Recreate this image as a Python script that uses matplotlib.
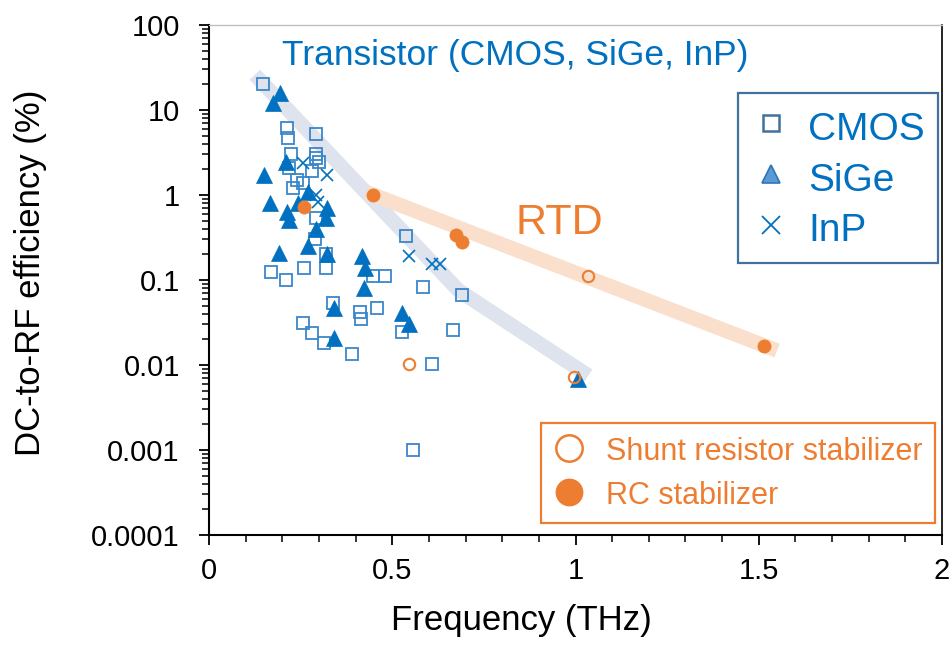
import matplotlib
matplotlib.use("Agg")
import matplotlib.pyplot as plt
from matplotlib.lines import Line2D
from matplotlib.ticker import FixedLocator, LogLocator, NullFormatter, MultipleLocator

plt.rcParams['font.family'] = ['Liberation Sans', 'DejaVu Sans']

# ---------------- data ----------------
cmos_f = [0.147, 0.212, 0.215, 0.293, 0.225, 0.293, 0.293, 0.299, 0.280, 0.218,
          0.239, 0.230, 0.256, 0.293, 0.288, 0.320, 0.168, 0.209, 0.258, 0.320,
          0.448, 0.480, 0.337, 0.413, 0.416, 0.459, 0.256, 0.280, 0.315, 0.389,
          0.538, 0.584, 0.690, 0.527, 0.666, 0.608, 0.557]
cmos_eff = [20, 6.2, 4.7, 5.2, 3.0, 3.0, 2.7, 2.45, 1.9, 2.1,
            1.5, 1.2, 1.4, 0.54, 0.30, 0.20, 0.125, 0.10, 0.14, 0.14,
            0.11, 0.11, 0.054, 0.042, 0.035, 0.047, 0.031, 0.024, 0.018, 0.0135,
            0.33, 0.083, 0.066, 0.0245, 0.026, 0.0102, 0.001]

sige_f = [0.193, 0.174, 0.209, 0.150, 0.270, 0.166, 0.212, 0.242, 0.323, 0.218,
          0.318, 0.293, 0.270, 0.190, 0.323, 0.418, 0.427, 0.424, 0.342, 0.340,
          0.527, 0.546, 1.008]
sige_eff = [15.8, 12, 2.45, 1.7, 1.08, 0.8, 0.63, 0.8, 0.7, 0.51,
            0.54, 0.40, 0.25, 0.21, 0.20, 0.19, 0.138, 0.08, 0.047, 0.021,
            0.041, 0.030, 0.0068]

inp_f = [0.256, 0.323, 0.293, 0.297, 0.546, 0.608, 0.630]
inp_eff = [2.4, 1.7, 1.0, 0.83, 0.19, 0.155, 0.155]

shunt_f = [0.546, 0.995, 1.035]
shunt_eff = [0.0102, 0.0072, 0.11]

rc_f = [0.258, 0.448, 0.673, 0.690, 1.514]
rc_eff = [0.72, 1.0, 0.34, 0.28, 0.0167]

trans_band_f = [0.125, 0.68, 1.035]
trans_band_eff = [26, 0.076, 0.0075]

rtd_band_f = [0.43, 1.55]
rtd_band_eff = [1.08, 0.0148]

xticks = [0, 0.5, 1, 1.5, 2]
xticklabels = ["0", "0.5", "1", "1.5", "2"]
yticks = [1e-4, 1e-3, 1e-2, 1e-1, 1, 10, 100]
yticklabels = ["0.0001", "0.001", "0.01", "0.1", "1", "10", "100"]

# ---------------- style ----------------
BLUE = '#0070C0'
SQBLUE = '#3A87C9'
ORANGE = '#ED7D31'
GRAYBAND = '#DEE3ED'
ORANGEBAND = '#FADFCC'

fig = plt.figure(figsize=(9.52, 6.48), dpi=100)
ax = fig.add_axes([209/952, 113/648, (942-209)/952, (535-25)/648])

ax.plot(trans_band_f, trans_band_eff, color=GRAYBAND, lw=10.5,
        solid_capstyle='butt', solid_joinstyle='miter', zorder=1)
ax.plot(rtd_band_f, rtd_band_eff, color=ORANGEBAND, lw=10.5,
        solid_capstyle='butt', zorder=1)

ax.plot(cmos_f, cmos_eff, ls='none', marker='s', ms=8.2, mfc='none',
        mec=SQBLUE, mew=1.3, zorder=3)
ax.plot(sige_f, sige_eff, ls='none', marker='^', ms=11, mfc=BLUE,
        mec=BLUE, mew=0.5, zorder=3)
ax.plot(inp_f, inp_eff, ls='none', marker='x', ms=8.5, mec=BLUE,
        mew=1.2, zorder=3)
ax.plot(rc_f, rc_eff, ls='none', marker='o', ms=9.5, mfc=ORANGE,
        mec=ORANGE, mew=0.5, zorder=4)
ax.plot(shunt_f, shunt_eff, ls='none', marker='o', ms=8.2, mfc='none',
        mec=ORANGE, mew=1.5, zorder=4)

ax.set_yscale('log')
ax.set_xlim(0, 2)
ax.set_ylim(1e-4, 100)
ax.xaxis.set_major_locator(FixedLocator(xticks))
ax.set_xticklabels(xticklabels)
ax.xaxis.set_minor_locator(MultipleLocator(0.1))
ax.yaxis.set_major_locator(FixedLocator(yticks))
ax.set_yticklabels(yticklabels)
ax.yaxis.set_minor_locator(LogLocator(base=10, subs=range(2, 10), numticks=20))
ax.yaxis.set_minor_formatter(NullFormatter())

ax.tick_params(axis='both', which='major', direction='out', length=7,
               width=1.3, labelsize=21, colors='black')
ax.tick_params(axis='both', which='minor', direction='out', length=5,
               width=1.1)
ax.tick_params(axis='x', which='major', pad=9)
ax.tick_params(axis='y', which='major', pad=14)

for s in ['left', 'bottom']:
    ax.spines[s].set_linewidth(1.5)
    ax.spines[s].set_color('black')
ax.spines['right'].set_linewidth(1.2)
ax.spines['right'].set_color('black')
ax.spines['top'].set_linewidth(1.0)
ax.spines['top'].set_color('#BFBFBF')

ax.set_xlabel('Frequency (THz)', fontsize=25)
ax.set_ylabel('DC-to-RF efficiency (%)', fontsize=25)
ax.xaxis.set_label_coords((521.5-209)/733, (535-604)/510)
ax.yaxis.set_label_coords((47-209)/733, (535-272.5)/510)

ax.text(0.835, 44, 'Transistor (CMOS, SiGe, InP)', color=BLUE, fontsize=25.5,
        ha='center', va='center', zorder=5)
ax.text(0.956, 0.47, 'RTD', color=ORANGE, fontsize=31,
        ha='center', va='center', zorder=5)

# legend 1: transistor types
h1 = [Line2D([], [], ls='none', marker='s', ms=11.5, mfc='none', mec='#41719C', mew=1.8),
      Line2D([], [], ls='none', marker='^', ms=13, mfc='#5B9BD5', mec='#2E75B6', mew=1.2),
      Line2D([], [], ls='none', marker='x', ms=13, mec=BLUE, mew=1.3)]
leg1 = ax.legend(h1, ['CMOS', 'SiGe', 'InP'], loc='upper left',
                 bbox_to_anchor=((738-209)/733, (535-93)/510),
                 borderaxespad=0, fontsize=28, labelcolor=BLUE,
                 frameon=True, fancybox=False, framealpha=1,
                 edgecolor='#41719C', handlelength=1.0, handletextpad=0.45,
                 handleheight=1.25, borderpad=0.35, labelspacing=0.23)
leg1.get_frame().set_linewidth(1.6)
ax.add_artist(leg1)

# legend 2: RTD stabilizers
h2 = [Line2D([], [], ls='none', marker='o', ms=19, mfc='white', mec=ORANGE, mew=1.8),
      Line2D([], [], ls='none', marker='o', ms=19, mfc=ORANGE, mec=ORANGE, mew=1.0)]
leg2 = ax.legend(h2, ['Shunt resistor stabilizer', 'RC stabilizer'], loc='upper left',
                 bbox_to_anchor=((541-209)/733, (535-423)/510),
                 borderaxespad=0, fontsize=22, labelcolor=ORANGE,
                 frameon=True, fancybox=False, framealpha=1,
                 edgecolor=ORANGE, handlelength=1.0, handletextpad=0.7,
                 handleheight=1.0, borderpad=0.42, labelspacing=0.41)
leg2.get_frame().set_linewidth(1.6)

fig.savefig('out.png', dpi=100)
